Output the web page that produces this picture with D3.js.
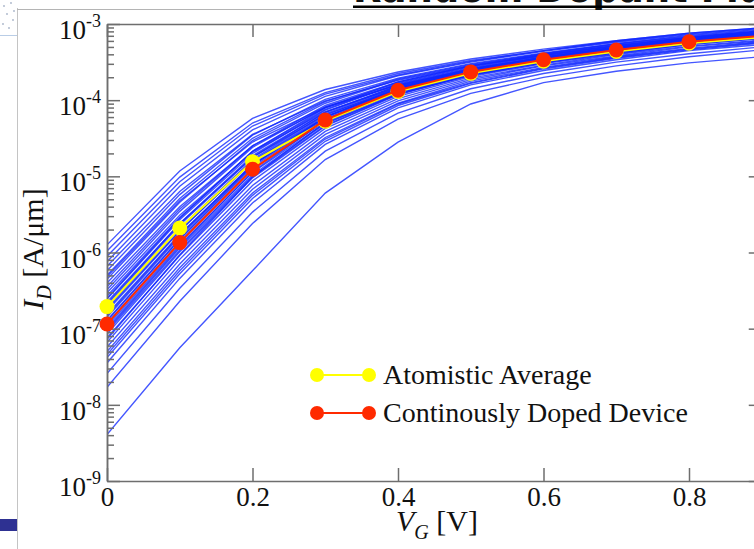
<!DOCTYPE html>
<html>
<head>
<meta charset="utf-8">
<script src="https://cdn.jsdelivr.net/npm/d3@7"></script>
<style>
  body { margin: 0; background: #fff; }
  svg { display: block; }
  text { font-family: "Liberation Serif", "Times New Roman", serif; fill: #111; }
</style>
</head>
<body>
<div id="chart"></div>
<script>
// gate voltage points (V)
var vg = [0, 0.1, 0.2, 0.3, 0.4, 0.5, 0.6, 0.7, 0.8, 0.9];
var xTicks = [0, 0.2, 0.4, 0.6, 0.8];
var yTickExp = [-9, -8, -7, -6, -5, -4, -3];

// drain current, A/um
var continuous = [1.15e-7, 1.35e-6, 1.24e-5, 5.5e-5, 1.35e-4, 2.35e-4, 3.4e-4, 4.55e-4, 5.85e-4, 7.0e-4];
var atomistic  = [1.95e-7, 2.1e-6, 1.55e-5, 5.3e-5, 1.3e-4, 2.25e-4, 3.25e-4, 4.35e-4, 5.6e-4, 6.7e-4];

// individual atomistic devices, log10(I_D)
var deviceLogId = [
  [-8.39, -7.25, -6.24, -5.22, -4.55, -4.05, -3.77, -3.62, -3.51, -3.43],
  [-7.77, -6.64, -5.62, -4.78, -4.25, -3.91, -3.70, -3.55, -3.43, -3.34],
  [-7.59, -6.47, -5.47, -4.67, -4.17, -3.85, -3.65, -3.50, -3.39, -3.30],
  [-7.45, -6.34, -5.35, -4.58, -4.10, -3.80, -3.61, -3.47, -3.35, -3.27],
  [-7.38, -6.28, -5.29, -4.54, -4.07, -3.78, -3.59, -3.45, -3.34, -3.25],
  [-7.34, -6.24, -5.25, -4.51, -4.05, -3.77, -3.58, -3.44, -3.33, -3.24],
  [-7.30, -6.20, -5.22, -4.49, -4.04, -3.75, -3.57, -3.43, -3.32, -3.23],
  [-7.24, -6.15, -5.17, -4.45, -4.01, -3.73, -3.55, -3.42, -3.30, -3.22],
  [-7.18, -6.09, -5.12, -4.41, -3.98, -3.71, -3.54, -3.40, -3.29, -3.21],
  [-7.14, -6.03, -5.01, -4.29, -3.88, -3.64, -3.48, -3.35, -3.24, -3.16],
  [-7.12, -6.04, -5.06, -4.37, -3.95, -3.69, -3.52, -3.39, -3.27, -3.19],
  [-7.07, -5.99, -5.02, -4.34, -3.93, -3.67, -3.51, -3.37, -3.26, -3.18],
  [-7.04, -5.97, -5.00, -4.33, -3.92, -3.67, -3.50, -3.37, -3.26, -3.17],
  [-7.02, -5.94, -4.98, -4.31, -3.91, -3.66, -3.49, -3.36, -3.25, -3.17],
  [-7.00, -5.92, -4.94, -4.27, -3.87, -3.62, -3.46, -3.33, -3.22, -3.14],
  [-6.97, -5.90, -4.95, -4.30, -3.92, -3.67, -3.51, -3.38, -3.27, -3.19],
  [-6.93, -5.86, -4.91, -4.28, -3.90, -3.66, -3.50, -3.37, -3.26, -3.18],
  [-6.90, -5.83, -4.88, -4.25, -3.86, -3.62, -3.47, -3.34, -3.23, -3.15],
  [-6.89, -5.82, -4.86, -4.22, -3.84, -3.60, -3.44, -3.31, -3.21, -3.13],
  [-6.85, -5.79, -4.85, -4.23, -3.85, -3.62, -3.46, -3.33, -3.22, -3.14],
  [-6.83, -5.77, -4.84, -4.22, -3.85, -3.61, -3.46, -3.33, -3.22, -3.14],
  [-6.81, -5.76, -4.85, -4.25, -3.88, -3.65, -3.49, -3.36, -3.25, -3.17],
  [-6.77, -5.72, -4.80, -4.20, -3.83, -3.60, -3.45, -3.32, -3.21, -3.13],
  [-6.75, -5.71, -4.81, -4.22, -3.86, -3.63, -3.47, -3.34, -3.24, -3.16],
  [-6.73, -5.68, -4.78, -4.18, -3.82, -3.60, -3.44, -3.31, -3.21, -3.13],
  [-6.69, -5.64, -4.75, -4.16, -3.81, -3.59, -3.44, -3.31, -3.20, -3.12],
  [-6.67, -5.62, -4.73, -4.16, -3.81, -3.59, -3.44, -3.31, -3.21, -3.13],
  [-6.65, -5.62, -4.75, -4.19, -3.85, -3.62, -3.47, -3.34, -3.23, -3.15],
  [-6.61, -5.57, -4.70, -4.13, -3.79, -3.58, -3.43, -3.30, -3.19, -3.12],
  [-6.60, -5.55, -4.67, -4.10, -3.76, -3.55, -3.40, -3.28, -3.18, -3.10],
  [-6.57, -5.54, -4.67, -4.12, -3.78, -3.57, -3.42, -3.30, -3.19, -3.11],
  [-6.53, -5.51, -4.68, -4.15, -3.83, -3.61, -3.46, -3.33, -3.22, -3.14],
  [-6.49, -5.46, -4.62, -4.09, -3.77, -3.56, -3.41, -3.29, -3.18, -3.10],
  [-6.45, -5.43, -4.60, -4.07, -3.76, -3.55, -3.41, -3.28, -3.18, -3.10],
  [-6.40, -5.40, -4.60, -4.10, -3.80, -3.59, -3.44, -3.31, -3.20, -3.12],
  [-6.35, -5.34, -4.53, -4.04, -3.73, -3.54, -3.39, -3.27, -3.17, -3.09],
  [-6.32, -5.32, -4.55, -4.09, -3.80, -3.60, -3.45, -3.32, -3.21, -3.13],
  [-6.30, -5.29, -4.50, -4.02, -3.72, -3.53, -3.39, -3.26, -3.16, -3.09],
  [-6.24, -5.24, -4.46, -3.99, -3.71, -3.52, -3.38, -3.26, -3.15, -3.08],
  [-6.18, -5.20, -4.45, -4.01, -3.74, -3.55, -3.41, -3.29, -3.18, -3.10],
  [-6.12, -5.13, -4.39, -3.95, -3.68, -3.50, -3.36, -3.24, -3.14, -3.07],
  [-6.05, -5.07, -4.34, -3.92, -3.67, -3.49, -3.35, -3.23, -3.13, -3.06],
  [-5.98, -5.01, -4.30, -3.90, -3.65, -3.48, -3.35, -3.22, -3.12, -3.05],
  [-5.90, -4.93, -4.24, -3.86, -3.63, -3.46, -3.33, -3.22, -3.12, -3.05]
];

var legendLabels = ["Atomistic Average", "Continously Doped Device"];
var legendColors = ["#ffff00", "#ff2a00"];

var width = 754, height = 549;
var plotL = 107, plotR = 761.75, plotT = 24, plotB = 481;

var svg = d3.select("#chart").append("svg")
    .attr("width", width)
    .attr("height", height);

/* ---- slide decoration ---- */
svg.append("line").attr("x1", 17.5).attr("x2", 17.5).attr("y1", 8).attr("y2", height)
    .attr("stroke", "#c4c4c4").attr("stroke-width", 1);
svg.append("line").attr("x1", 17).attr("x2", width).attr("y1", 9.5).attr("y2", 9.5)
    .attr("stroke", "#b4b4b4").attr("stroke-width", 1);
svg.append("line").attr("x1", 0).attr("x2", 17).attr("y1", 35.5).attr("y2", 35.5)
    .attr("stroke", "#b9cde6").attr("stroke-width", 1);
[[4, 6], [11, 3], [7, 14], [13, 20], [3, 24], [9, 28], [14, 11]].forEach(function (p) {
    svg.append("circle").attr("cx", p[0]).attr("cy", p[1]).attr("r", 0.9).attr("fill", "#a8b4c8");
});
svg.append("rect").attr("x", 0).attr("y", 519).attr("width", 17).attr("height", 12)
    .attr("fill", "#2e3192");

svg.append("text")
    .attr("x", 353).attr("y", 2)
    .style("font-family", "'DejaVu Sans', sans-serif")
    .style("font-weight", "bold")
    .style("font-size", "37px")
    .text("Random Dopant Fluctuations");
svg.append("rect").attr("x", 353).attr("y", 5.5).attr("width", width - 353).attr("height", 2.5)
    .attr("fill", "#000");

/* ---- scales ---- */
var x = d3.scaleLinear().domain([0, 0.9]).range([plotL, plotR]);
var y = d3.scaleLog().domain([1e-9, 1e-3]).range([plotB, plotT]);

var minor = [];
yTickExp.slice(0, -1).forEach(function (e) {
    for (var k = 2; k <= 9; k++) minor.push(k * Math.pow(10, e));
});
var major = yTickExp.map(function (e) { return Math.pow(10, e); });

svg.append("defs").append("clipPath").attr("id", "plot")
    .append("rect").attr("x", plotL).attr("y", plotT)
    .attr("width", plotR - plotL).attr("height", plotB - plotT);

/* ---- device curves ---- */
var line = d3.line()
    .x(function (d, i) { return x(vg[i]); })
    .y(function (d) { return y(d); });

svg.append("g").attr("clip-path", "url(#plot)")
    .selectAll("path")
    .data(deviceLogId)
    .enter().append("path")
    .attr("d", function (d) { return line(d.map(function (v) { return Math.pow(10, v); })); })
    .attr("fill", "none")
    .attr("stroke", "#1026ff")
    .attr("stroke-opacity", 0.78)
    .attr("stroke-width", 1.4);

/* ---- axes ---- */
function styleAxis(g) {
    g.selectAll("path, line").attr("stroke", "#6e6e6e").attr("stroke-width", 1.5);
    g.selectAll("text").remove();
}

svg.append("g").attr("transform", "translate(" + plotL + ",0)")
    .call(d3.axisRight(y).tickValues(major).tickSize(13).tickSizeOuter(0)).call(styleAxis);
svg.append("g").attr("transform", "translate(" + plotL + ",0)")
    .call(d3.axisRight(y).tickValues(minor).tickSize(7).tickSizeOuter(0)).call(styleAxis);
svg.append("g").attr("transform", "translate(" + plotR + ",0)")
    .call(d3.axisLeft(y).tickValues(major).tickSize(13).tickSizeOuter(0)).call(styleAxis);
svg.append("g").attr("transform", "translate(" + plotR + ",0)")
    .call(d3.axisLeft(y).tickValues(minor).tickSize(7).tickSizeOuter(0)).call(styleAxis);
svg.append("g").attr("transform", "translate(0," + plotT + ")")
    .call(d3.axisBottom(x).tickValues(xTicks).tickSize(13).tickSizeOuter(0)).call(styleAxis);

var xAxis = svg.append("g").attr("transform", "translate(0," + plotB + ")")
    .call(d3.axisBottom(x).tickValues(xTicks).tickSizeInner(-13).tickSizeOuter(0).tickPadding(6)
        .tickFormat(d3.format("")));
xAxis.selectAll("path, line").attr("stroke", "#6e6e6e").attr("stroke-width", 1.5);
xAxis.selectAll("text")
    .style("font-family", "'Liberation Serif', serif")
    .style("font-size", "27px")
    .attr("fill", "#111");

// y tick labels 10^n
var yLab = svg.append("g").selectAll("text")
    .data(yTickExp)
    .enter().append("text")
    .attr("x", 101)
    .attr("y", function (e) { return y(Math.pow(10, e)) + 15; })
    .attr("text-anchor", "end");
yLab.append("tspan").style("font-size", "27px").text("10");
yLab.append("tspan").style("font-size", "18px").attr("dy", -12).text(function (e) { return e; });

/* ---- axis titles ---- */
var xt = svg.append("text").attr("x", 437).attr("y", 531).attr("text-anchor", "middle")
    .style("font-size", "30px");
xt.append("tspan").style("font-style", "italic").text("V");
xt.append("tspan").style("font-style", "italic").style("font-size", "20px").attr("dy", 8).text("G");
xt.append("tspan").attr("dy", -8).text(" [V]");

var yt = svg.append("text").attr("transform", "translate(43,249) rotate(-90)")
    .attr("text-anchor", "middle").style("font-size", "30px");
yt.append("tspan").style("font-style", "italic").text("I");
yt.append("tspan").style("font-style", "italic").style("font-size", "20px").attr("dy", 8).text("D");
yt.append("tspan").attr("dy", -8).text(" [A/\u03bcm]");

/* ---- average and continuous curves ---- */
[atomistic, continuous].forEach(function (series, s) {
    svg.append("path")
        .attr("d", line(series))
        .attr("fill", "none")
        .attr("stroke", legendColors[s])
        .attr("stroke-width", 2);
    svg.append("g").selectAll("circle")
        .data(series)
        .enter().append("circle")
        .attr("cx", function (d, i) { return x(vg[i]); })
        .attr("cy", function (d) { return y(d); })
        .attr("r", 7.5)
        .attr("fill", legendColors[s]);
});

/* ---- legend ---- */
var lg = svg.append("g").selectAll("g")
    .data(legendLabels)
    .enter().append("g")
    .attr("transform", function (d, i) { return "translate(317," + (375 + i * 38) + ")"; });
lg.append("line").attr("x1", 0).attr("x2", 52)
    .attr("stroke", function (d, i) { return legendColors[i]; }).attr("stroke-width", 2);
lg.append("circle").attr("cx", 0).attr("r", 7).attr("fill", function (d, i) { return legendColors[i]; });
lg.append("circle").attr("cx", 52).attr("r", 7).attr("fill", function (d, i) { return legendColors[i]; });
lg.append("text").attr("x", 66).attr("y", 9)
    .style("font-size", "28px")
    .text(function (d) { return d; });
</script>
</body>
</html>
